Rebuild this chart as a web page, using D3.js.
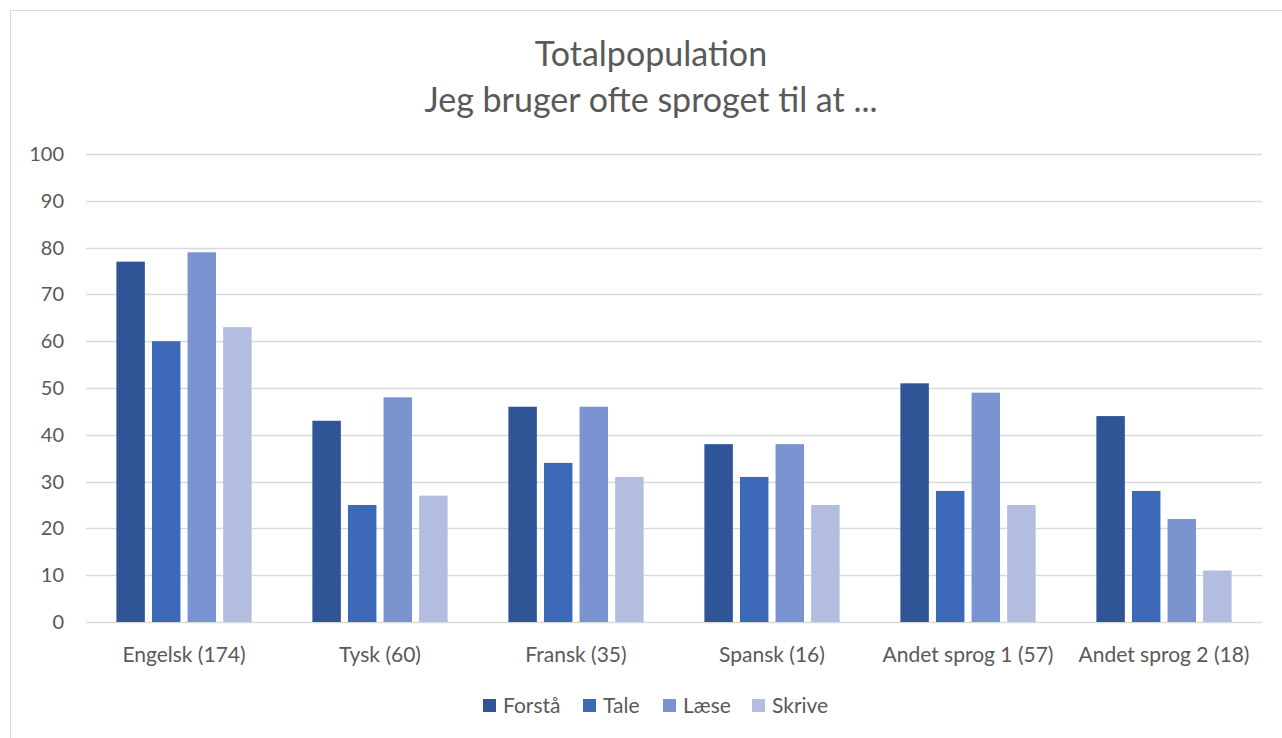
<!DOCTYPE html>
<html>
<head>
    <meta charset="utf-8">
    <title>Totalpopulation</title>
    <script src="https://d3js.org/d3.v7.min.js"></script>
    <style>
        body { margin: 0; background: #fff; }
        text { font-family: Lato, "Open Sans", sans-serif; fill: #595959; }
    </style>
</head>
<body>
    <svg width="1282" height="738"></svg>
    <script>
        // data
        var categories = ["Engelsk (174)", "Tysk (60)", "Fransk (35)", "Spansk (16)", "Andet sprog 1 (57)", "Andet sprog 2 (18)"];
        var seriesNames = ["Forstå", "Tale", "Læse", "Skrive"];
        var forstaa = [77, 43, 46, 38, 51, 44];
        var tale    = [60, 25, 34, 31, 28, 28];
        var laese   = [79, 48, 46, 38, 49, 22];
        var skrive  = [63, 27, 31, 25, 25, 11];
        var yTicks  = [0, 10, 20, 30, 40, 50, 60, 70, 80, 90, 100];

        var seriesValues = [forstaa, tale, laese, skrive];
        var colors = ["#2F5597", "#3D6AB8", "#7B93D0", "#B3BDDF"];

        var svg = d3.select("svg"),
            plotLeft = 86, plotRight = 1262, plotTop = 154, plotBottom = 622;

        // chart frame
        svg.append("rect")
            .attr("x", 10.5).attr("y", 10.5)
            .attr("width", 1300).attr("height", 800)
            .attr("fill", "none")
            .attr("stroke", "#d9d9d9");

        var x0 = d3.scaleBand()
            .domain(categories)
            .range([plotLeft, plotRight])
            .paddingInner(0.31)
            .paddingOuter(0.155);

        var x1 = d3.scaleBand()
            .domain(seriesNames)
            .range([0, x0.bandwidth()])
            .paddingInner(0.2);

        var y = d3.scaleLinear()
            .domain([0, 100])
            .range([plotBottom, plotTop]);

        // gridlines
        svg.append("g")
            .selectAll("line")
            .data(yTicks)
            .enter().append("line")
            .attr("x1", plotLeft).attr("x2", plotRight)
            .attr("y1", function(d) { return Math.round(y(d)) + 0.5; })
            .attr("y2", function(d) { return Math.round(y(d)) + 0.5; })
            .attr("stroke", "#d9d9d9")
            .attr("stroke-width", 1.3);

        svg.append("g")
            .selectAll("text")
            .data(yTicks)
            .enter().append("text")
            .attr("x", 64)
            .attr("y", function(d) { return y(d); })
            .attr("dy", "0.35em")
            .attr("text-anchor", "end")
            .style("font-size", "20px")
            .text(function(d) { return d; });

        // bars
        var rows = categories.map(function(c, i) {
            return seriesNames.map(function(s, j) {
                return { cat: c, series: s, value: seriesValues[j][i], color: colors[j] };
            });
        });

        svg.append("g")
            .selectAll("g")
            .data(rows)
            .enter().append("g")
            .attr("transform", function(d, i) { return "translate(" + x0(categories[i]) + ",0)"; })
            .selectAll("rect")
            .data(function(d) { return d; })
            .enter().append("rect")
            .attr("x", function(d) { return x1(d.series); })
            .attr("width", x1.bandwidth())
            .attr("y", function(d) { return y(d.value); })
            .attr("height", function(d) { return y(0) - y(d.value); })
            .attr("fill", function(d) { return d.color; });

        // category labels
        svg.append("g")
            .selectAll("text")
            .data(categories)
            .enter().append("text")
            .attr("x", function(d) { return x0(d) + x0.bandwidth() / 2; })
            .attr("y", 662)
            .attr("text-anchor", "middle")
            .style("font-size", "21px")
            .text(function(d) { return d; });

        // title
        svg.append("text")
            .attr("x", 651).attr("y", 66)
            .attr("text-anchor", "middle")
            .style("font-size", "34px")
            .text("Totalpopulation");
        svg.append("text")
            .attr("x", 651).attr("y", 112)
            .attr("text-anchor", "middle")
            .style("font-size", "34px")
            .text("Jeg bruger ofte sproget til at ...");

        // legend
        var legendX = [483, 583, 663, 752];
        var legend = svg.append("g")
            .selectAll("g")
            .data(seriesNames)
            .enter().append("g")
            .attr("transform", function(d, i) { return "translate(" + legendX[i] + ",699)"; });
        legend.append("rect")
            .attr("width", 13).attr("height", 13)
            .attr("fill", function(d, i) { return colors[i]; });
        legend.append("text")
            .attr("x", 20).attr("y", 14)
            .style("font-size", "21px")
            .text(function(d) { return d; });
    </script>
</body>
</html>
